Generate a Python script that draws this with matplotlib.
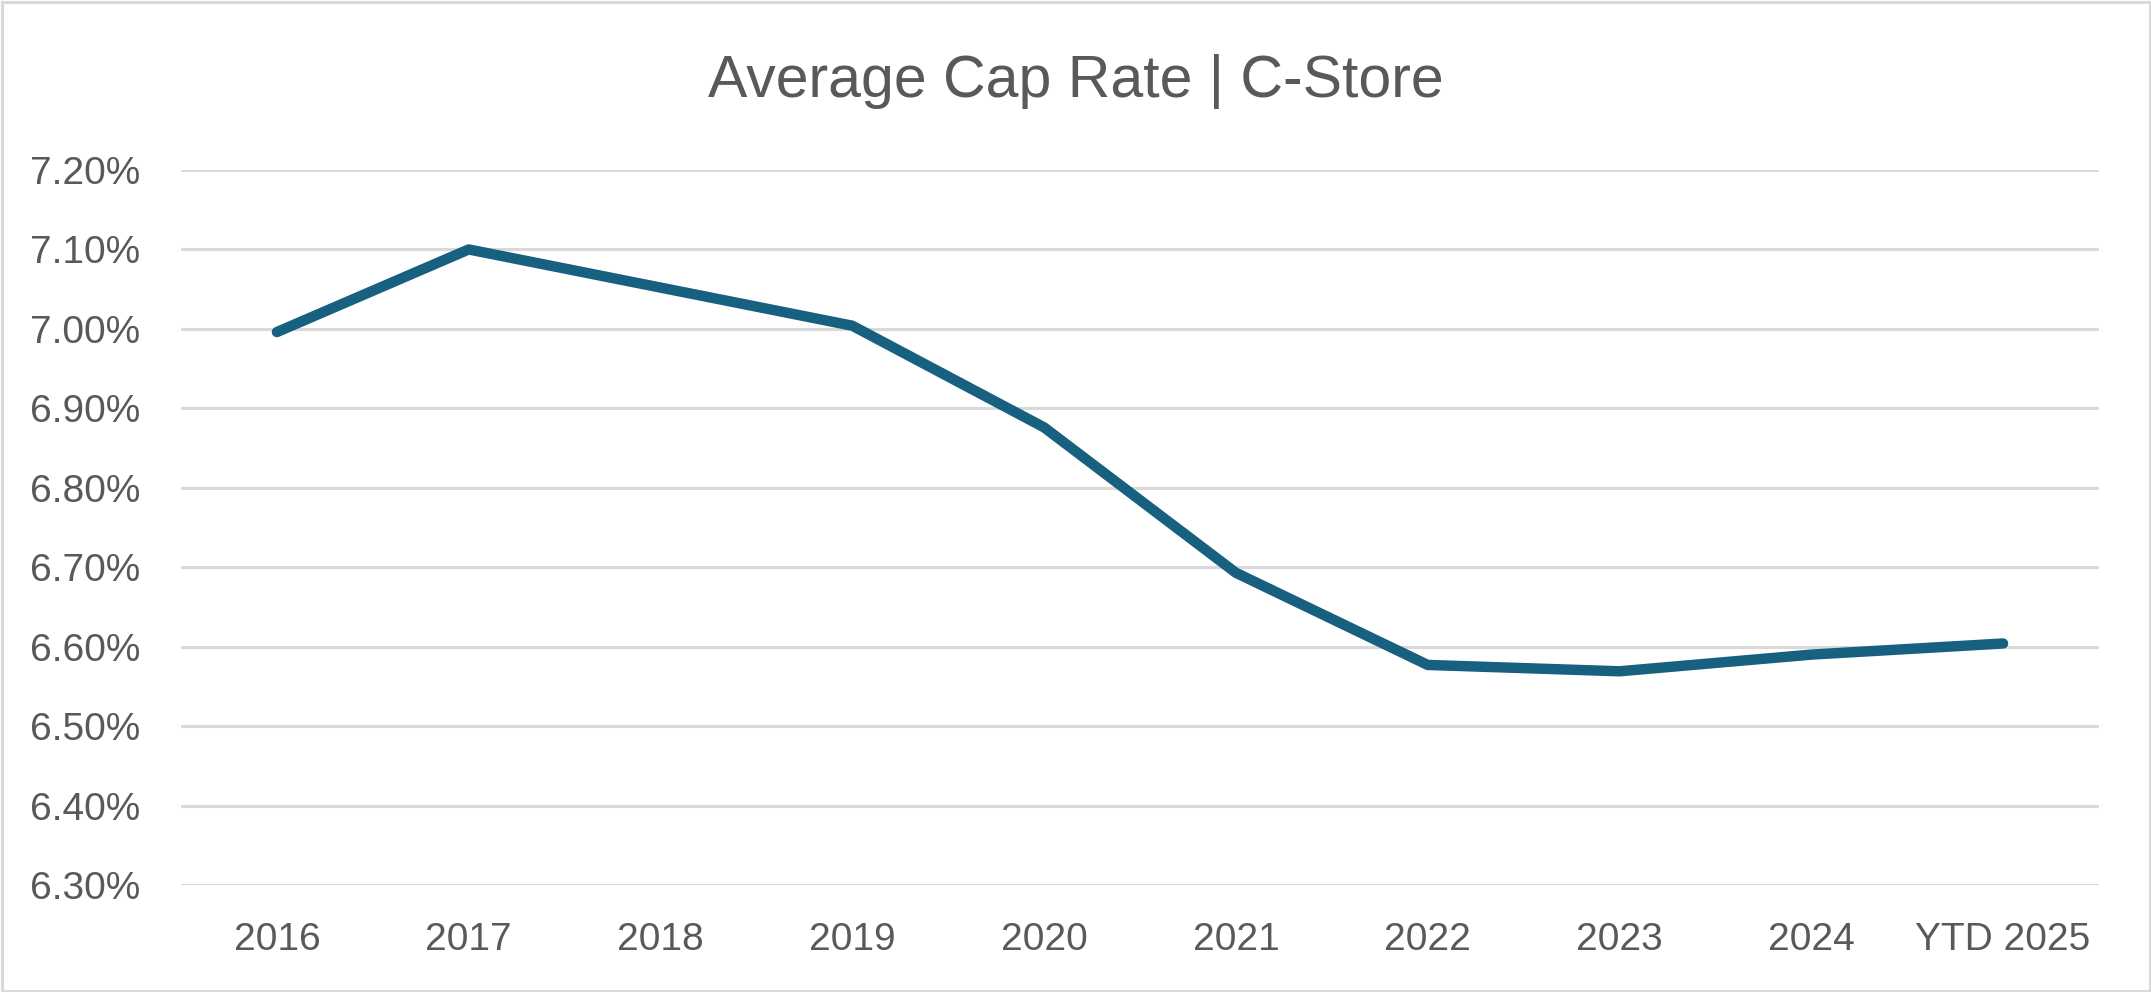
import matplotlib
matplotlib.use("Agg")
import matplotlib.pyplot as plt
from matplotlib.patches import Rectangle
from matplotlib.ticker import FuncFormatter

# donnees
annees = ["2016", "2017", "2018", "2019", "2020", "2021", "2022", "2023", "2024", "YTD 2025"]
taux_cap = [6.996, 7.100, 7.052, 7.004, 6.876, 6.693, 6.577, 6.569, 6.590, 6.604]
graduations_y = [6.30, 6.40, 6.50, 6.60, 6.70, 6.80, 6.90, 7.00, 7.10, 7.20]

couleur_texte = "#595959"
couleur_ligne = "#17607f"
couleur_grille = "#d9d9d9"

plt.rcParams["font.family"] = ["Liberation Sans", "DejaVu Sans"]

fig = plt.figure(figsize=(21.51, 9.92), dpi=100)
fig.patch.set_facecolor("white")

W, H = 2151, 992
gauche, droite, haut, bas = 181, 2099, 170, 885
ax = fig.add_axes([gauche / W, 1 - bas / H, (droite - gauche) / W, (bas - haut) / H])

x = list(range(len(annees)))
ax.plot(x, taux_cap, color=couleur_ligne, linewidth=7.5,
        solid_capstyle="round", solid_joinstyle="round", zorder=3)

ax.set_xlim(-0.5, len(annees) - 0.5)
ax.set_ylim(graduations_y[0], graduations_y[-1])
ax.set_yticks(graduations_y)
ax.yaxis.set_major_formatter(FuncFormatter(lambda v, p: f"{v:.2f}%"))
ax.set_xticks(x)
ax.set_xticklabels(annees)

ax.grid(axis="y", color=couleur_grille, linewidth=2.2, zorder=0)
ax.set_axisbelow(True)
for s in ax.spines.values():
    s.set_visible(False)

ax.tick_params(axis="y", length=0, pad=29.5, labelsize=28, labelcolor=couleur_texte)
ax.tick_params(axis="x", length=0, pad=27, labelsize=28, labelcolor=couleur_texte)

fig.text(0.5, 1 - 97 / H, "Average Cap Rate | C-Store", ha="center", va="baseline",
         fontsize=42.5, color=couleur_texte)

# cadre autour du graphique
fig.patches.append(Rectangle((1.5 / W, 1.5 / H), 1 - 3 / W, 1 - 3 / H,
                             transform=fig.transFigure, fill=False,
                             edgecolor=couleur_grille, linewidth=2.2))

fig.savefig("out.png", dpi=100, facecolor="white")
